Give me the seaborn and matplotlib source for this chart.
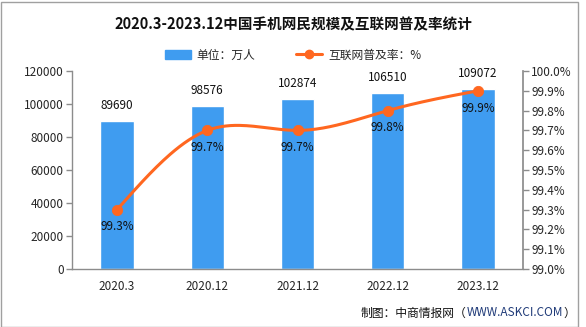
import numpy as np
import pandas as pd
import matplotlib
matplotlib.use("Agg")
import matplotlib.pyplot as plt
import seaborn as sns
from matplotlib.lines import Line2D
from matplotlib.patches import Patch

categories = ["2020.3", "2020.12", "2021.12", "2022.12", "2023.12"]
users = [89690, 98576, 102874, 106510, 109072]
rate = [99.3, 99.7, 99.7, 99.8, 99.9]
left_ticks = [0, 20000, 40000, 60000, 80000, 100000, 120000]
right_ticks = [99.0, 99.1, 99.2, 99.3, 99.4, 99.5, 99.6, 99.7, 99.8, 99.9, 100.0]

sns.set_theme(style="white")
plt.rcParams['font.family'] = ['Noto Sans CJK SC', 'DejaVu Sans']

BLUE = "#3F9CF0"
ORANGE = "#FF6720"
GRAY = "#8C8C8C"

fig = plt.figure(figsize=(5.86, 3.27), dpi=100)
ax = fig.add_axes([72/586, 1-269/327, (523-72)/586, (269-71)/327])

df = pd.DataFrame({"cat": categories, "users": users, "rate": rate})
sns.barplot(data=df, x="cat", y="users", color=BLUE, width=0.37, ax=ax,
            saturation=1, zorder=2)
ax.set_ylim(0, 120000)
ax.set_xlim(-0.5, len(categories) - 0.5)
ax.set_yticks(left_ticks)
ax.set_yticklabels([str(v) for v in left_ticks], fontsize=8.5)
ax.set_xlabel("")
ax.set_ylabel("")
ax.set_xticks(range(len(categories)))
ax.set_xticklabels(categories, fontsize=8.5)
ax.tick_params(axis="x", length=0, pad=8)
ax.set_xticks(np.arange(-0.5, len(categories)), minor=True)
ax.tick_params(axis="x", which="minor", length=4, color=GRAY, width=1, direction="out")
ax.tick_params(axis="y", length=4, color=GRAY, width=1, direction="out", pad=2)
for s in ["top", "right"]:
    ax.spines[s].set_visible(False)
for s in ["left", "bottom"]:
    ax.spines[s].set_color(GRAY)
    ax.spines[s].set_linewidth(1)

for i, v in enumerate(users):
    ax.text(i, v + 5500, str(v), ha="center", va="bottom", fontsize=8.5, color="#111111")

ax2 = ax.twinx()
x = np.arange(len(categories), dtype=float)
y = np.array(rate)
# natural cubic spline for smooth rendering of the line
n = len(x)
h = np.diff(x)
A = np.zeros((n, n)); b = np.zeros(n)
A[0, 0] = 1; A[-1, -1] = 1
for i in range(1, n-1):
    A[i, i-1] = h[i-1]; A[i, i] = 2*(h[i-1]+h[i]); A[i, i+1] = h[i]
    b[i] = 3*((y[i+1]-y[i])/h[i] - (y[i]-y[i-1])/h[i-1])
c = np.linalg.solve(A, b)
xs, ys = [], []
for i in range(n-1):
    bi = (y[i+1]-y[i])/h[i] - h[i]*(2*c[i]+c[i+1])/3
    di = (c[i+1]-c[i])/(3*h[i])
    t = np.linspace(0, h[i], 40)
    xs.append(x[i]+t); ys.append(y[i]+bi*t+c[i]*t**2+di*t**3)
ax2.plot(np.concatenate(xs), np.concatenate(ys), color=ORANGE, lw=2.2, zorder=3)
sns.scatterplot(x=x, y=y, color=ORANGE, s=55, edgecolor=ORANGE, ax=ax2, zorder=4, legend=False)
for i, v in enumerate(rate):
    ax2.text(i, v - 0.055, f"{v:.1f}%", ha="center", va="top", fontsize=8.5, color="#111111")
ax2.set_ylim(99.0, 100.0)
ax2.set_yticks(right_ticks)
ax2.set_yticklabels([f"{v:.1f}%" for v in right_ticks], fontsize=8.5)
ax2.tick_params(axis="y", length=4, color=GRAY, width=1, direction="out", pad=2)
for s in ["top", "left", "bottom"]:
    ax2.spines[s].set_visible(False)
ax2.spines["right"].set_color(GRAY)
ax2.set_xlim(-0.5, len(categories) - 0.5)

fig.text(0.5, 1-24/327, "2020.3-2023.12中国手机网民规模及互联网普及率统计", ha="center", va="center",
         fontsize=10.5, fontweight="bold", color="#111111")

handles = [Patch(facecolor=BLUE, edgecolor=BLUE),
           Line2D([0], [0], color=ORANGE, lw=2.2, marker="o", markersize=6)]
fig.legend(handles, ["单位：万人", "互联网普及率：%"], loc="center", ncol=2,
           bbox_to_anchor=(0.5, 1-55/327), frameon=False, fontsize=8.5,
           handlelength=2.2, handleheight=0.9, columnspacing=3.5, handletextpad=0.5)

# footer: black text with dark-blue URL
fy = 1-313/327
renderer = fig.canvas.get_renderer()
t3 = fig.text(575/586, fy, "）", ha="right", va="center", fontsize=8.5, color="#111111")
bb = t3.get_window_extent(renderer)
t2 = fig.text(bb.x0/586, fy, "WWW.ASKCI.COM", ha="right", va="center", fontsize=8.5,
              color="#1F3A78")
bb = t2.get_window_extent(renderer)
fig.text(bb.x0/586, fy, "制图：中商情报网（", ha="right", va="center", fontsize=8.5, color="#111111")

border = plt.Rectangle((0.5/586, 0.5/327), 577/586, 325/327, transform=fig.transFigure,
                       fill=False, edgecolor="#A0A0A0", lw=1)
fig.patches.append(border)

fig.savefig("out.png", dpi=100)
